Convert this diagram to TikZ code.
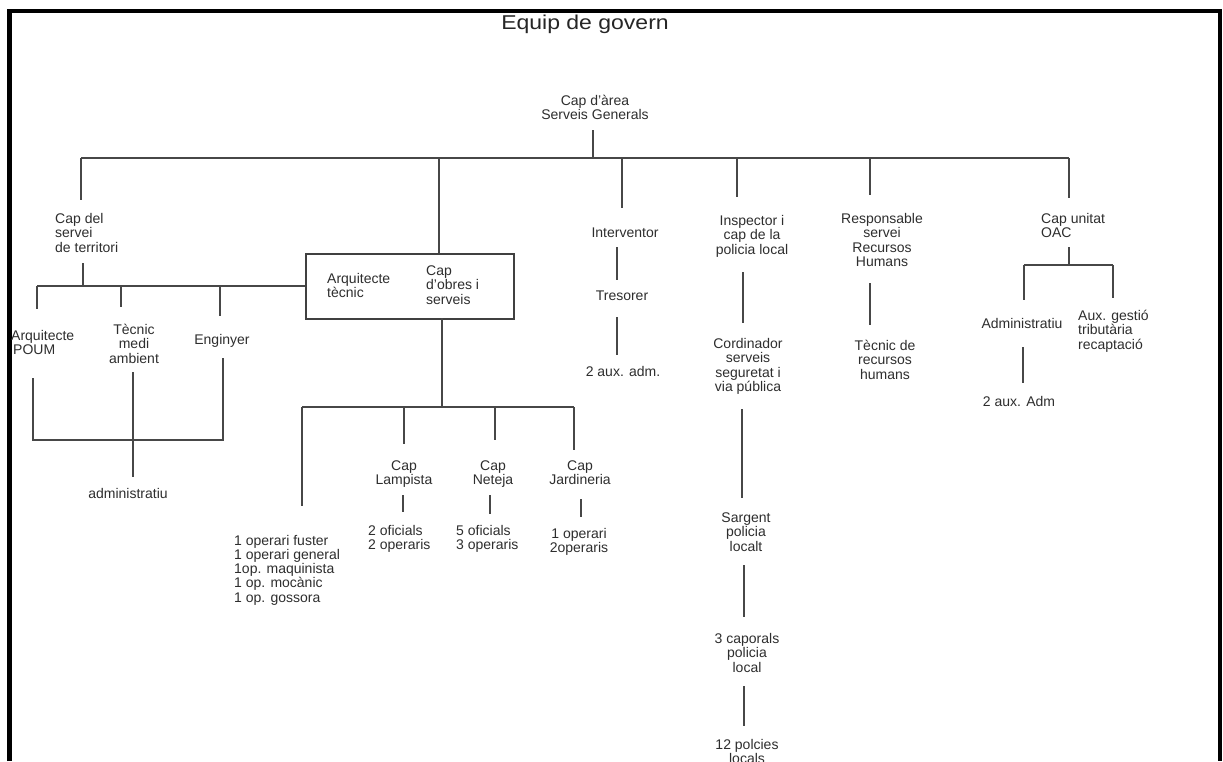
\documentclass[tikz,border=0pt]{standalone}
\usepackage{fontspec}
\setmainfont{Liberation Sans}
\newcommand\fl{\rule{0pt}{11pt}}
\begin{document}
\begin{tikzpicture}[x=1pt,y=-1pt,
  lbl/.style={font=\fontsize{14}{14.5}\selectfont, text=black!82, inner sep=0pt, anchor=north, align=center},
  lbll/.style={lbl, anchor=north west, align=left},
  conn/.style={draw=black!72, line width=1.4pt},
  boxed/.style={draw=black!75, line width=1.8pt}]
\useasboundingbox (0,0) rectangle (1223,761);
\fill[white] (0,0) rectangle (1223,761);

% outer frame, open at the bottom
\draw[line width=4.5pt, line join=miter] (9.5,761) -- (9.5,11) -- (1220,11) -- (1220,761);

% title
\node[font=\fontsize{20}{22}\selectfont, text=black!85, anchor=base, inner sep=0pt] (title) at (585,29) {\scalebox{1.15}[1]{Equip de govern}};

% ---------- texts ----------
\node[lbl]  (head)  at (595,94)  {\fl Cap d'àrea\\Serveis Generals};
\node[lbll] (terr)  at (55,212)  {\fl Cap del\\servei\\de territori};
\node[lbl]  (interv) at (625,226) {\fl Interventor};
\node[lbl]  (insp)  at (752,214) {\fl Inspector i\\cap de la\\policia local};
\node[lbl]  (rh)    at (882,212) {\fl Responsable\\servei\\Recursos\\Humans};
\node[lbll] (oac)   at (1041,212) {\fl Cap unitat\\OAC};

\node[boxed, minimum width=208pt, minimum height=65pt, anchor=north west, inner sep=0pt] (box) at (305,253) {};
\node[lbll] (arqt)  at (327,272) {\fl Arquitecte\\tècnic};
\node[lbll] (capob) at (426,264) {\fl Cap\\d'obres i\\serveis};

\node[lbll] (arqp)  at (11,329)  {\fl Arquitecte\\\hspace*{2pt}POUM};
\node[lbl]  (tecm)  at (134,323) {\fl Tècnic\\medi\\ambient};
\node[lbl]  (eng)   at (222,333) {\fl Enginyer};
\node[lbl]  (adm1)  at (128,487) {\fl administratiu};

\node[lbl]  (capl)  at (404,459) {\fl Cap\\Lampista};
\node[lbl]  (capn)  at (493,459) {\fl Cap\\Neteja};
\node[lbl]  (capj)  at (580,459) {\fl Cap\\Jardineria};
\node[lbll] (opl)   at (368,524) {\fl 2 oficials\\2 operaris};
\node[lbll] (opn)   at (456,524) {\fl 5 oficials\\3 operaris};
\node[lbl]  (opj)   at (579,527) {\fl 1 operari\\2operaris};
\node[lbll, font=\fontsize{14}{14.2}\selectfont] (opf) at (234,534)
  {\fl 1 operari fuster\\1 operari general\\1op. maquinista\\1 op. mocànic\\1 op. gossora};

\node[lbl]  (tres)  at (622,289) {\fl Tresorer};
\node[lbl]  (aux1)  at (623,365) {\fl 2 aux. adm.};

\node[lbl]  (cord)  at (748,337) {\fl Cordinador\\serveis\\seguretat i\\via pública};
\node[lbl]  (sarg)  at (746,511) {\fl Sargent\\policia\\localt};
\node[lbl]  (capo)  at (747,632) {\fl 3 caporals\\policia\\local};
\node[lbl]  (pol)   at (747,738) {\fl 12 polcies\\locals};

\node[lbl]  (tecrh) at (885,339) {\fl Tècnic de\\recursos\\humans};

\node[lbl]  (admo)  at (1022,317) {\fl Administratiu};
\node[lbll] (auxg)  at (1078,309) {\fl Aux. gestió\\tributària\\recaptació};
\node[lbl]  (aux2)  at (1019,395) {\fl 2 aux. Adm};

% ---------- connector end points ----------
\coordinate (h0) at (593,130);  \coordinate (h1) at (593,158);
\coordinate (bL) at (81,158);   \coordinate (bR) at (1069,158);
\coordinate (d1) at (81,200);
\coordinate (d2a) at (439,158); 
\coordinate (d3a) at (622,158); \coordinate (d3) at (622,208);
\coordinate (d4a) at (737,158); \coordinate (d4) at (737,197);
\coordinate (d5a) at (870,158); \coordinate (d5) at (870,195);
\coordinate (d6) at (1069,198);

% territory branch
\coordinate (t0) at (83,263);  \coordinate (t1) at (83,286);
\coordinate (tL) at (37,286);  \coordinate (tLe) at (37,309);
\coordinate (tM) at (121,286); \coordinate (tMe) at (121,307);
\coordinate (tR) at (220,286); \coordinate (tRe) at (220,316);
\coordinate (u1) at (33,378);  \coordinate (u1e) at (33,440);
\coordinate (u2) at (223,358); \coordinate (u2e) at (223,440);
\coordinate (u3) at (133,372); \coordinate (u3e) at (133,477);

% works branch
\coordinate (w0) at (442,318); \coordinate (w1) at (442,407);
\coordinate (wL) at (302,407); \coordinate (wLe) at (302,506);
\coordinate (wA) at (404,407); \coordinate (wAe) at (404,444);
\coordinate (wB) at (495,407); \coordinate (wBe) at (495,440);
\coordinate (wC) at (574,407); \coordinate (wCe) at (574,450);
\coordinate (x1) at (403,495); \coordinate (x1e) at (403,512);
\coordinate (x2) at (490,495); \coordinate (x2e) at (490,514);
\coordinate (x3) at (581,499); \coordinate (x3e) at (581,517);

% finance, police, HR, OAC
\coordinate (f1) at (617,247); \coordinate (f1e) at (617,280);
\coordinate (f2) at (617,317); \coordinate (f2e) at (617,355);
\coordinate (p1) at (743,272); \coordinate (p1e) at (743,323);
\coordinate (p2) at (742,409); \coordinate (p2e) at (742,498);
\coordinate (p3) at (744,565); \coordinate (p3e) at (744,617);
\coordinate (p4) at (744,686); \coordinate (p4e) at (744,726);
\coordinate (r1) at (870,283); \coordinate (r1e) at (870,325);
\coordinate (o1) at (1069,247); \coordinate (o1e) at (1069,265);
\coordinate (oL) at (1024,265); \coordinate (oLe) at (1024,300);
\coordinate (oR) at (1113,265); \coordinate (oRe) at (1113,298);
\coordinate (o2) at (1023,347); \coordinate (o2e) at (1023,383);

% ---------- connectors ----------
\draw[conn] (h0) -- (h1);
\draw[conn] (bL) -- (bR);
\draw[conn] (bL) -- (d1);
\draw[conn] (d2a) -- (d2a |- box.north);
\draw[conn] (d3a) -- (d3);
\draw[conn] (d4a) -- (d4);
\draw[conn] (d5a) -- (d5);
\draw[conn] (bR) -- (d6);

\draw[conn] (t0) -- (t1);
\draw[conn] (tL) -- (tL -| box.west);
\draw[conn] (tL) -- (tLe);
\draw[conn] (tM) -- (tMe);
\draw[conn] (tR) -- (tRe);
\draw[conn] (u1) -- (u1e) -- (u2e) -- (u2);
\draw[conn] (u3) -- (u3e);

\draw[conn] (w0) -- (w1);
\draw[conn] (wL) -- (wC);
\draw[conn] (wL) -- (wLe);
\draw[conn] (wA) -- (wAe);
\draw[conn] (wB) -- (wBe);
\draw[conn] (wC) -- (wCe);
\draw[conn] (x1) -- (x1e);
\draw[conn] (x2) -- (x2e);
\draw[conn] (x3) -- (x3e);

\draw[conn] (f1) -- (f1e);
\draw[conn] (f2) -- (f2e);
\draw[conn] (p1) -- (p1e);
\draw[conn] (p2) -- (p2e);
\draw[conn] (p3) -- (p3e);
\draw[conn] (p4) -- (p4e);
\draw[conn] (r1) -- (r1e);
\draw[conn] (o1) -- (o1e);
\draw[conn] (oL) -- (oR);
\draw[conn] (oL) -- (oLe);
\draw[conn] (oR) -- (oRe);
\draw[conn] (o2) -- (o2e);
\end{tikzpicture}
\end{document}
